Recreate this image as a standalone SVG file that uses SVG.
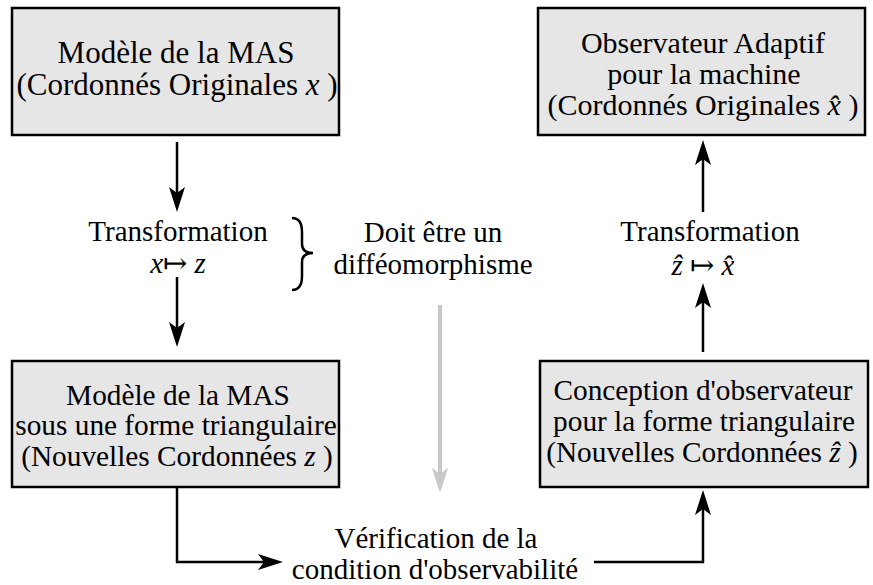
<svg xmlns="http://www.w3.org/2000/svg" width="873" height="585" viewBox="0 0 873 585">
<style>
.box{fill:#e6e6e6;stroke:#000;stroke-width:2.5}
.t{font-family:"Liberation Serif","Times New Roman",serif;font-size:29.3px;fill:#000;text-anchor:middle}
.tb{font-size:31px}
.tc{font-size:30px}
.l{font-family:"Liberation Serif","Times New Roman",serif;font-size:29px;fill:#000;text-anchor:middle}
.i{font-style:italic}
.m{font-family:"DejaVu Serif",serif;font-style:normal}
.c{fill:none;stroke:#000;stroke-width:2.5}
.g{fill:none;stroke:#c8c8c8;stroke-width:4}
</style>
<defs>
<marker id="ah" markerUnits="userSpaceOnUse" orient="auto" refX="0" refY="0" markerWidth="40" markerHeight="40" viewBox="-10 -10 40 20" overflow="visible">
<path d="M-7,-8 L18,0 L-7,8 L-1,0 Z" fill="#000"/>
</marker>
<marker id="gh" markerUnits="userSpaceOnUse" orient="auto" refX="0" refY="0" markerWidth="40" markerHeight="40" viewBox="-10 -10 40 20" overflow="visible">
<path d="M-7,-8 L18,0 L-7,8 L-1,0 Z" fill="#c8c8c8"/>
</marker>
</defs>
<rect width="873" height="585" fill="#fff"/>
<g id="connectors">
<line class="c" x1="177" y1="142" x2="177" y2="194" marker-end="url(#ah)"/>
<line class="c" x1="177" y1="277" x2="177" y2="329" marker-end="url(#ah)"/>
<polyline class="c" points="177,488 177,562 265,562" marker-end="url(#ah)"/>
<polyline class="c" points="594,562 703,562 703,508" marker-end="url(#ah)"/>
<line class="c" x1="703" y1="352" x2="703" y2="301" marker-end="url(#ah)"/>
<line class="c" x1="703" y1="212" x2="703" y2="158" marker-end="url(#ah)"/>
<line class="g" x1="440" y1="305" x2="440" y2="475" marker-end="url(#gh)"/>
<path class="c" d="M292,218 C300,218 302,224 302,232 L302,244 C302,250 306,253 313,253 C306,253 302,256 302,262 L302,276 C302,284 300,290 292,290"/>
</g>
<g id="box1">
<rect class="box" x="12" y="8" width="327" height="127"/>
<text class="t tb" x="176" y="63">Modèle de la MAS</text>
<text class="t tb" x="177" y="95">(Cordonnés Originales <tspan class="i">x</tspan> )</text>
</g>
<g id="box2">
<rect class="box" x="538" y="8" width="327" height="127"/>
<text class="t tc" x="703" y="53">Observateur Adaptif</text>
<text class="t tc" x="704" y="84">pour la machine</text>
<text class="t tc" x="703" y="115">(Cordonnés Originales <tspan class="i">x&#x302;</tspan> )</text>
</g>
<g id="box3">
<rect class="box" x="12" y="361" width="327" height="126"/>
<text class="t" x="178" y="405">Modèle de la MAS</text>
<text class="t" x="176" y="435">sous une forme triangulaire</text>
<text class="t" x="177" y="466">(Nouvelles Cordonnées <tspan class="i">z</tspan> )</text>
</g>
<g id="box4">
<rect class="box" x="540" y="361" width="328" height="126"/>
<text class="t" x="703" y="400">Conception d'observateur</text>
<text class="t" x="704" y="431">pour la forme triangulaire</text>
<text class="t" x="702" y="462">(Nouvelles Cordonnées <tspan class="i">ẑ</tspan> )</text>
</g>
<g id="transfo-left">
<text class="l" x="178" y="241">Transformation</text>
<text class="l" x="178" y="273"><tspan class="i">x</tspan><tspan class="m">↦</tspan> <tspan class="i">z</tspan></text>
</g>
<g id="diffeo">
<text class="l" x="433" y="242">Doit être un</text>
<text class="l" x="433" y="274">difféomorphisme</text>
</g>
<g id="transfo-right">
<text class="l" x="710" y="241">Transformation</text>
<text class="l" x="703" y="275"><tspan class="i">ẑ</tspan> <tspan class="m">↦</tspan> <tspan class="i">x&#x302;</tspan></text>
</g>
<g id="verif">
<text class="l" x="436" y="548">Vérification de la</text>
<text class="l" x="435" y="579">condition d'observabilité</text>
</g>
</svg>
